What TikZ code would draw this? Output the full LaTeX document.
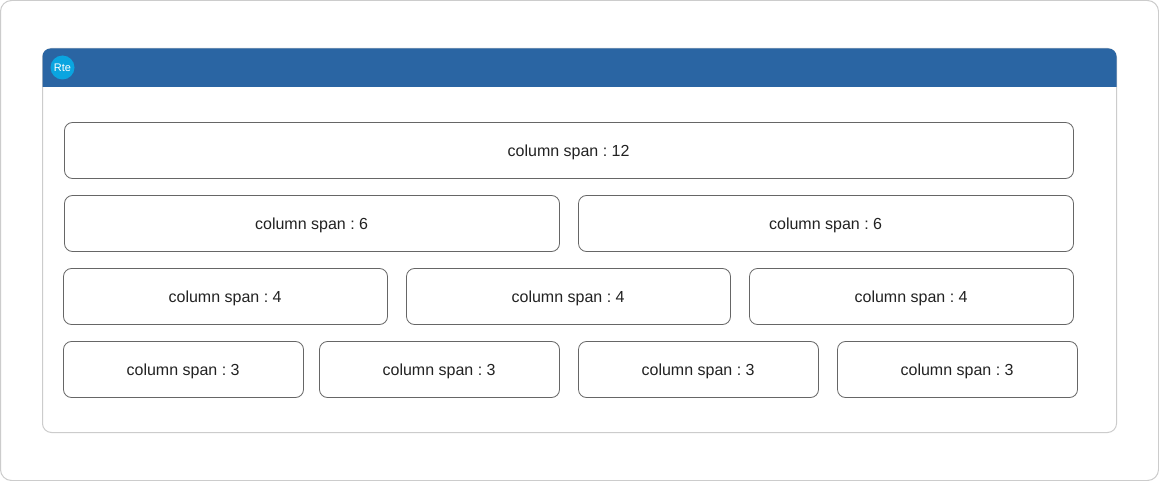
\documentclass[tikz,border=0pt]{standalone}
\usepackage{fontspec}
\setmainfont{Liberation Sans}
\frenchspacing
\definecolor{hdrblue}{HTML}{2A65A3}
\definecolor{logoblue}{HTML}{0AA5E0}
\definecolor{frameg}{HTML}{CCCCCC}
\definecolor{cellg}{HTML}{666666}
\definecolor{inkg}{HTML}{222222}
\tikzset{
  cell/.style={draw=cellg,line width=0.8pt,rounded corners=8pt,fill=white,minimum height=56pt,
    inner sep=0pt,outer sep=0pt},
  celltext/.style={text=inkg,font=\fontsize{16}{19}\selectfont,inner sep=0pt},
  frame/.style={draw=frameg,line width=1pt,fill=white},
  logo/.style={circle,fill=logoblue,minimum size=24pt,inner sep=0pt,outer sep=0pt,text=white,
    font=\fontsize{11}{12}\selectfont}
}
\newcommand{\spanbox}[4]{%
  \node[cell,minimum width=#2] (#1) at (#3) {};
  \node[celltext] (#1t) at ([xshift=-0.4pt,yshift=-1.8pt]#1.center) {#4};
}
\begin{document}
\begin{tikzpicture}[x=1pt,y=-1pt]
\useasboundingbox (0,0) rectangle (1159,481);
\fill[white] (0,0) rectangle (1159,481);
\draw[frame,rounded corners=11pt] (0.5,0.5) rectangle (1158.5,480.5);
\draw[frame,rounded corners=9pt] (42.5,48.5) rectangle (1116.5,432.5);
\fill[hdrblue] (42.5,87) -- (42.5,70) [rounded corners=8pt] -- (42.5,48.5) -- (1116.5,48.5) -- (1116.5,70) [sharp corners] -- (1116.5,87) -- cycle;
\node[logo] (rte) at (62.5,67.5) {Rte};
\spanbox{a1}{1009pt}{569,150.5}{column span : 12}
\spanbox{b1}{495pt}{312,223.5}{column span : 6}
\spanbox{b2}{495pt}{826,223.5}{column span : 6}
\spanbox{c1}{324pt}{225.5,296.5}{column span : 4}
\spanbox{c2}{324pt}{568.5,296.5}{column span : 4}
\spanbox{c3}{324pt}{911.5,296.5}{column span : 4}
\spanbox{d1}{240pt}{183.5,369.5}{column span : 3}
\spanbox{d2}{240pt}{439.5,369.5}{column span : 3}
\spanbox{d3}{240pt}{698.5,369.5}{column span : 3}
\spanbox{d4}{240pt}{957.5,369.5}{column span : 3}
\end{tikzpicture}
\end{document}
